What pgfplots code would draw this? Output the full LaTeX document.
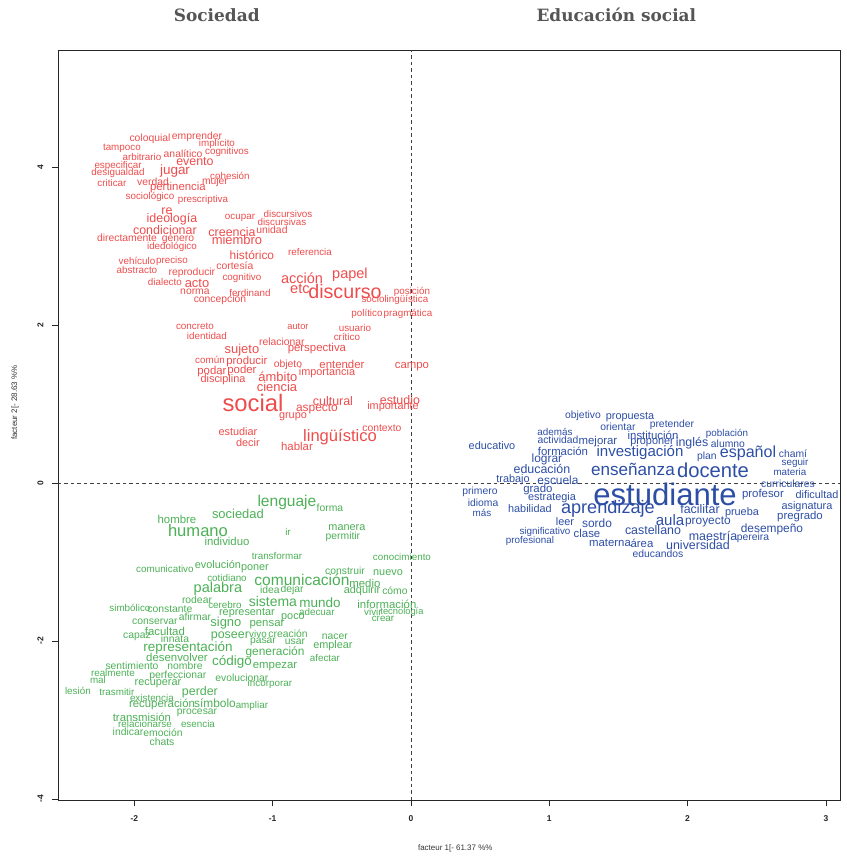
\documentclass[border=0pt]{standalone}
\usepackage{pgfplots}
\usepackage{pgfplotstable}
\pgfplotsset{compat=1.18}
\usepackage{fontspec}
\setmainfont{Liberation Sans}
\newfontfamily\titlefont{DejaVu Serif}
\definecolor{redc}{RGB}{238,76,76}
\definecolor{bluec}{RGB}{45,78,165}
\definecolor{greenc}{RGB}{76,176,86}
\definecolor{titlec}{RGB}{85,85,85}

\pgfplotstableread{
x y s w
-1.887 4.354 10 coloquial
-1.547 4.380 10 emprender
-1.403 4.291 9.5 implícito
-2.090 4.241 9.5 tampoco
-1.945 4.127 9.5 arbitrario
-1.648 4.165 10 analítico
-1.330 4.190 9.5 cognitivos
-1.562 4.063 12 evento
-1.706 3.949 13 jugar
-2.118 4.013 9.5 especificar
-2.118 3.924 9.5 desigualdad
-2.162 3.797 9.5 criticar
-1.865 3.810 10 verdad
-1.309 3.886 9.5 cohesión
-1.417 3.810 10 mujer
-1.685 3.734 11 pertinencia
-1.887 3.620 9.5 sociológico
-1.504 3.582 9.5 prescriptiva
-1.764 3.443 12 re
-1.728 3.342 12 ideología
-1.236 3.354 9.5 ocupar
-0.889 3.405 9.5 discursivos
-0.933 3.304 9.5 discursivas
-1.005 3.203 10 unidad
-1.779 3.203 12 condicionar
-1.294 3.177 12 creencia
-2.053 3.101 10 directamente
-1.685 3.089 10 género
-1.258 3.076 12.5 miembro
-1.728 2.987 9.5 idedológico
-0.730 2.924 9.5 referencia
-1.150 2.886 11.5 histórico
-1.981 2.810 9.5 vehículo
-1.728 2.810 9.5 preciso
-1.273 2.747 10 cortesía
-1.981 2.696 9.5 abstracto
-1.584 2.658 10 reproducir
-0.788 2.595 14 acción
-0.441 2.633 14 papel
-1.222 2.595 9.5 cognitivo
-1.779 2.544 9.5 dialecto
-1.547 2.532 12.5 acto
-0.803 2.456 14 etc
-0.477 2.418 19 discurso
-1.562 2.418 10 norma
-1.164 2.405 9.5 ferdinand
0.007 2.418 9.5 posición
-0.116 2.316 9.5 sociolingüística
-1.381 2.316 10 concepción
-0.318 2.139 9.5 político
-0.022 2.139 9.5 pragmática
-1.562 1.987 9.5 concreto
-0.817 1.975 9 autor
-0.405 1.962 9.5 usuario
-1.475 1.861 9.5 identidad
-0.463 1.848 9.5 crítico
-0.933 1.785 10 relacionar
-1.222 1.684 12.5 sujeto
-0.680 1.696 11 perspectiva
-1.453 1.557 9.5 común
-1.186 1.532 11 producir
-0.889 1.494 10 objeto
-0.499 1.494 11 entender
0.007 1.468 11 campo
-1.439 1.405 11 podar
-1.222 1.418 11 poder
-0.962 1.342 12.5 ámbito
-0.607 1.392 10.5 importancia
-1.359 1.304 10.5 disciplina
-0.969 1.215 12.5 ciencia
-1.142 1.013 23 social
-0.564 1.038 12 cultural
-0.080 1.051 12 estudio
-0.130 0.962 10.5 importante
-0.680 0.937 11.5 aspecto
-0.853 0.835 10.5 grupo
-0.210 0.696 10 contexto
-1.251 0.646 10.5 estudiar
-0.513 0.582 16 lingüístico
-1.179 0.506 10.5 decir
-0.824 0.456 11 hablar
}\redtab

\pgfplotstableread{
x y s w
1.244 0.848 10 objetivo
1.584 0.835 10.5 propuesta
1.497 0.709 10 orientar
1.887 0.734 10 pretender
1.041 0.646 9.5 además
1.750 0.608 11 institución
2.285 0.620 9.5 población
1.063 0.544 10 actividad
1.352 0.519 11 mejorar
1.743 0.506 10.5 proponer
2.032 0.506 12 inglés
2.292 0.494 10 alumno
0.586 0.468 10.5 educativo
1.099 0.405 11 formación
1.656 0.380 14.5 investigación
2.437 0.380 15.5 español
2.140 0.329 10 plan
2.762 0.367 10 chamí
0.983 0.304 11.5 lograr
2.777 0.253 9.5 seguir
0.947 0.177 12 educación
1.605 0.177 16.5 enseñanza
2.184 0.165 19.5 docente
2.740 0.139 9.5 materia
0.738 0.038 10.5 trabajo
1.063 0.038 11.5 escuela
2.726 -0.013 10 curriculares
0.918 -0.089 11 grado
0.499 -0.114 10 primero
1.837 -0.139 30 estudiante
2.545 -0.152 11 profesor
2.936 -0.152 10.5 dificultad
1.020 -0.190 10.5 estrategia
0.521 -0.253 10 idioma
2.863 -0.304 10.5 asignatura
1.424 -0.329 17.5 aprendizaje
0.860 -0.329 10.5 habilidad
2.090 -0.329 12 facilitar
0.513 -0.380 9.5 más
2.393 -0.380 10.5 prueba
2.813 -0.430 11 pregrado
1.873 -0.468 14.5 aula
2.147 -0.494 11.5 proyecto
1.114 -0.494 10.5 leer
1.345 -0.506 11.5 sordo
2.610 -0.582 11.5 desempeño
1.750 -0.595 12 castellano
0.969 -0.620 9.5 significativo
1.273 -0.633 11 clase
2.184 -0.671 12 maestría
2.473 -0.696 10 pereira
0.860 -0.734 9.5 profesional
1.439 -0.759 11 materna
1.670 -0.759 11 área
2.075 -0.785 12 universidad
1.786 -0.899 10 educandos
}\bluetab

\pgfplotstableread{
x y s w
-0.897 -0.241 15 lenguaje
-0.586 -0.316 10 forma
-1.251 -0.392 12.5 sociedad
-1.692 -0.468 11 hombre
-0.463 -0.570 10.5 manera
-1.540 -0.608 16 humano
-0.889 -0.620 9.5 ir
-0.492 -0.684 10 permitir
-1.330 -0.734 11 individuo
-0.969 -0.924 9.5 transformar
-0.065 -0.937 9.5 conocimiento
-1.396 -1.038 10.5 evolución
-1.779 -1.089 9.5 comunicativo
-1.128 -1.089 10.5 poner
-0.477 -1.114 10 construir
-0.166 -1.139 10.5 nuevo
-1.330 -1.203 9.5 cotidiano
-0.788 -1.228 15 comunicación
-0.333 -1.266 11 medio
-1.396 -1.342 14 palabra
-1.020 -1.354 10 idea
-0.860 -1.354 10 dejar
-0.354 -1.367 10.5 adquirir
-0.116 -1.367 10 cómo
-1.547 -1.481 10 rodear
-0.998 -1.506 13.5 sistema
-0.658 -1.519 13 mundo
-0.174 -1.532 11 información
-1.345 -1.544 9.5 cerebro
-2.032 -1.582 9.5 simbólico
-1.743 -1.595 10 constante
-1.186 -1.646 10.5 representar
-0.680 -1.633 9.5 adecuar
-0.275 -1.633 9.5 vivir
-0.065 -1.633 9 tecnología
-1.562 -1.696 10 afirmar
-0.853 -1.709 10.5 poco
-0.202 -1.722 9.5 crear
-1.851 -1.759 10 conservar
-1.338 -1.772 12.5 signo
-1.041 -1.797 11 pensar
-1.779 -1.873 11 facultad
-1.106 -1.911 9.5 vivo
-0.889 -1.911 10 creación
-1.309 -1.937 12 poseer
-1.981 -1.949 10 capaz
-0.550 -1.949 10 nacer
-1.706 -1.975 10 innata
-1.070 -2.013 10 pasar
-0.839 -2.013 10 usar
-0.564 -2.063 10.5 emplear
-1.612 -2.089 13 representación
-0.983 -2.139 11.5 generación
-1.692 -2.203 11 desenvolver
-0.622 -2.215 9.5 afectar
-1.294 -2.266 13 código
-2.017 -2.316 10 sentimiento
-1.634 -2.316 10 nombre
-0.983 -2.329 11 empezar
-2.155 -2.405 9.5 realmente
-1.685 -2.443 10 perfeccionar
-1.222 -2.468 10 evolucionar
-2.263 -2.494 9.5 mal
-1.020 -2.544 9.5 incorporar
-1.829 -2.544 10.5 recuperar
-2.408 -2.633 9.5 lesión
-2.126 -2.646 9.5 trasmitir
-1.526 -2.646 12 perder
-1.873 -2.722 9.5 existencia
-1.417 -2.785 11.5 símbolo
-1.800 -2.810 11 recuperación
-1.150 -2.823 9.5 ampliar
-1.547 -2.911 10 procesar
-1.945 -2.962 11 transmisión
-1.923 -3.051 9.5 relacionarse
-1.540 -3.051 9.5 esencia
-2.046 -3.152 10 indicar
-1.793 -3.165 10 emoción
-1.800 -3.278 10 chats
}\greentab

\pgfplotsset{wordcloud/.style={
  only marks, mark=*, mark size=0pt,
  mark options={draw=none, fill=none},
  point meta=explicit symbolic,
  nodes near coords,
  visualization depends on={1.04*\thisrow{s} \as \wsize},
  every node near coord/.append style={anchor=center, inner sep=0pt,
    font=\fontsize{\wsize}{\wsize}\selectfont}
}}

\begin{document}
\begin{tikzpicture}
\begin{axis}[
  scale only axis,
  width=782bp, height=750bp,
  xmin=-2.552, xmax=3.102,
  ymin=-4.013, ymax=5.48,
  clip=false,
  axis line style={line width=0.8pt, black!85},
  xtick={-2,-1,0,1,2,3},
  ytick={-4,-2,0,2,4},
  xtick pos=bottom, ytick pos=left,
  tick align=outside,
  major tick length=6bp,
  tick style={line width=0.7pt, black!85},
  /pgf/number format/assume math mode=true,
  ticklabel style={font=\bfseries\fontsize{8.5}{10}\selectfont, text=black!85},
  xticklabel style={yshift=-6bp},
  yticklabel style={rotate=90, anchor=south, yshift=5bp},
  xlabel={facteur 1[- 61.37 \%\%},
  ylabel={facteur 2[- 28.63 \%\%},
  xlabel style={font=\fontsize{8}{9}\selectfont, text=black!80, at={(axis description cs:0.508,-0.064)}, anchor=center},
  ylabel style={font=\fontsize{8}{9}\selectfont, text=black!80, at={(axis description cs:-0.055,0.53)}, anchor=center, rotate=0},
]
\addplot[dashed, dash pattern=on 3.5bp off 3bp, line width=0.8pt, black!75] coordinates {(0,-4.013) (0,5.48)};
\addplot[dashed, dash pattern=on 3.5bp off 3bp, line width=0.8pt, black!75] coordinates {(-2.552,0) (3.102,0)};
\addplot[wordcloud, redc] table[x=x, y=y, meta=w] {\redtab};
\addplot[wordcloud, bluec] table[x=x, y=y, meta=w] {\bluetab};
\addplot[wordcloud, greenc] table[x=x, y=y, meta=w] {\greentab};
\node[font=\titlefont\bfseries\fontsize{17}{20}\selectfont, text=titlec] at (axis description cs:0.203,1.047) {Sociedad};
\node[font=\titlefont\bfseries\fontsize{17}{20}\selectfont, text=titlec] at (axis description cs:0.714,1.047) {Educación social};
\end{axis}
\pgfresetboundingbox
\path[use as bounding box] ([shift={(-58bp,-56bp)}]current axis.south west) rectangle ([shift={(7bp,50bp)}]current axis.north east);
\end{tikzpicture}
\end{document}
